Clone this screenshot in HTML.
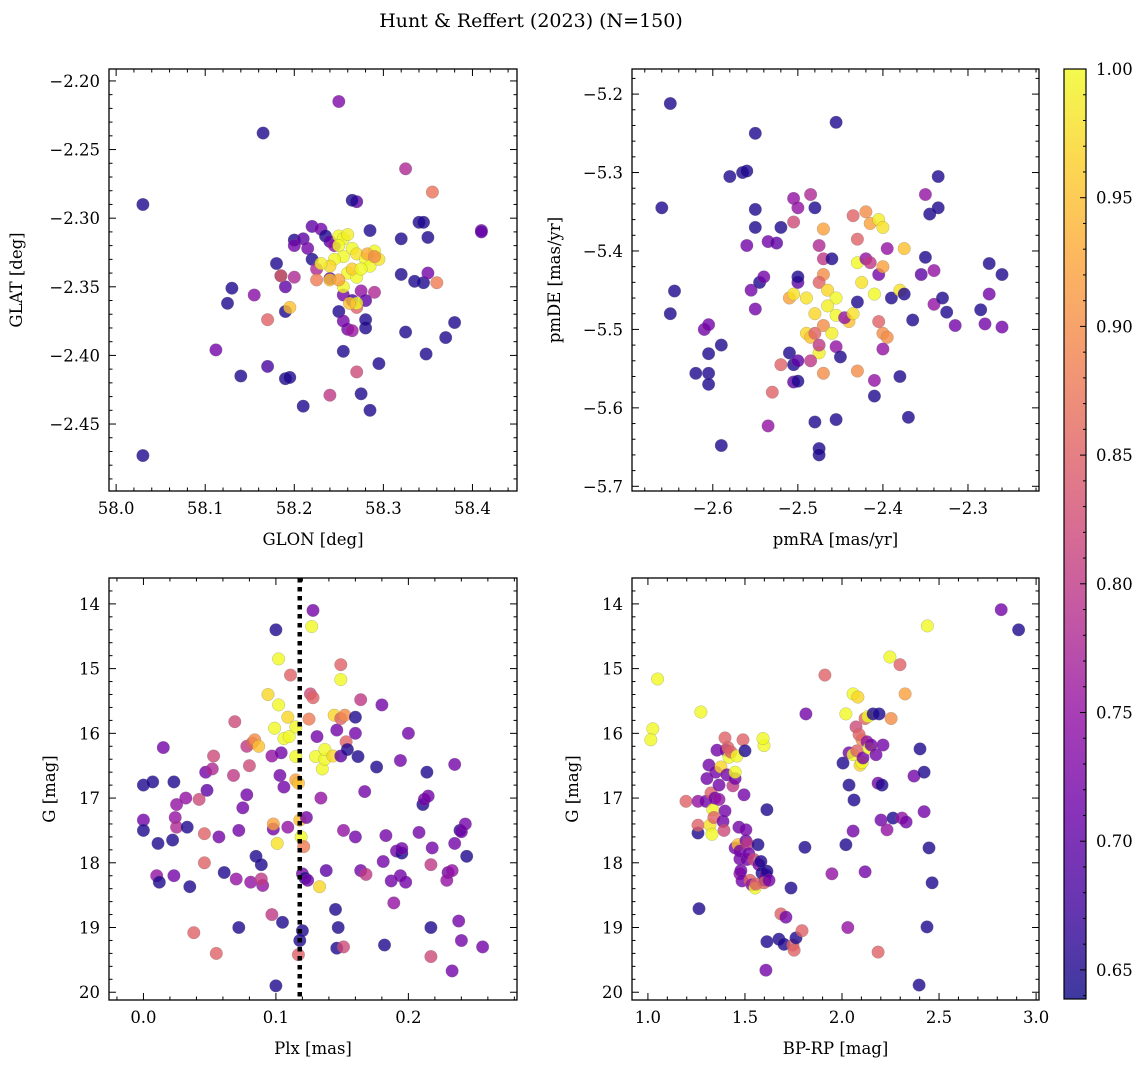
<!DOCTYPE html>
<html><head><meta charset="utf-8"><style>
body{margin:0;background:#fff;}
svg{display:block;font-family:"DejaVu Serif","Liberation Serif",serif;}
</style></head><body>
<svg id="fig" width="1148" height="1068" xmlns="http://www.w3.org/2000/svg">
<text x="531" y="27" font-size="19" text-anchor="middle">Hunt &amp; Reffert (2023) (N=150)</text>
</svg>
<script>
// ---------- Panel 1: GLON vs GLAT ----------
const glon = [58.03,58.03,58.165,58.25,58.325,58.355,58.41,58.41,58.34,58.285,58.27,58.265,58.22,58.2,58.2,58.18,58.185,58.19,58.13,58.155,58.125,58.17,58.19,58.112,58.14,58.17,58.19,58.195,58.21,58.24,58.27,58.275,58.285,58.295,58.28,58.28,58.255,58.26,58.265,58.325,58.348,58.37,58.38,58.345,58.35,58.36,58.335,58.32,58.32,58.35,58.345,58.29,58.21,58.215,58.23,58.235,58.24,58.245,58.22,58.225,58.24,58.255,58.265,58.27,58.275,58.28,58.25,58.255,58.2,58.195,58.185,58.25,58.255,58.26,58.25,58.265,58.255,58.27,58.28,58.285,58.29,58.295,58.245,58.24,58.26,58.27,58.265,58.275,58.255,58.27,58.262,58.23,58.24,58.282,58.29,58.25,58.225];
const glat = [-2.29,-2.473,-2.238,-2.215,-2.264,-2.281,-2.309,-2.31,-2.303,-2.309,-2.288,-2.287,-2.306,-2.316,-2.32,-2.333,-2.342,-2.35,-2.351,-2.356,-2.362,-2.374,-2.368,-2.396,-2.415,-2.408,-2.417,-2.416,-2.437,-2.429,-2.412,-2.428,-2.44,-2.406,-2.38,-2.374,-2.397,-2.381,-2.382,-2.383,-2.399,-2.387,-2.376,-2.347,-2.34,-2.347,-2.346,-2.341,-2.315,-2.314,-2.303,-2.354,-2.315,-2.322,-2.308,-2.313,-2.317,-2.32,-2.33,-2.337,-2.344,-2.356,-2.36,-2.365,-2.353,-2.36,-2.368,-2.375,-2.343,-2.365,-2.342,-2.313,-2.315,-2.312,-2.32,-2.322,-2.328,-2.326,-2.33,-2.335,-2.324,-2.33,-2.33,-2.335,-2.34,-2.343,-2.337,-2.337,-2.35,-2.362,-2.362,-2.333,-2.345,-2.326,-2.328,-2.345,-2.345];
const prob1 = [.65,.65,.65,.73,.78,.87,.72,.7,.65,.65,.7,.65,.7,.65,.72,.65,.65,.7,.65,.74,.65,.85,.65,.72,.65,.68,.65,.65,.65,.8,.82,.65,.65,.65,.65,.65,.65,.72,.76,.65,.65,.65,.65,.65,.72,.88,.65,.65,.65,.65,.65,.78,.7,.72,.72,.65,.7,.75,.65,.78,.7,.72,.68,.85,.75,.7,.65,.72,.78,.95,.85,1,1,.99,1,1,1,.98,1,1,1,.98,1,.97,1,1,.96,1,1,1,.95,.99,.95,.93,.9,.92,.88];

// ---------- Panel 2: pmRA vs pmDE ----------
const pmra = [-2.65,-2.66,-2.645,-2.65,-2.61,-2.605,-2.59,-2.605,-2.62,-2.605,-2.605,-2.59,-2.58,-2.565,-2.56,-2.55,-2.55,-2.55,-2.56,-2.555,-2.545,-2.54,-2.55,-2.535,-2.525,-2.52,-2.53,-2.535,-2.52,-2.51,-2.505,-2.5,-2.505,-2.5,-2.51,-2.505,-2.49,-2.49,-2.5,-2.5,-2.505,-2.5,-2.505,-2.48,-2.485,-2.475,-2.47,-2.455,-2.47,-2.475,-2.47,-2.465,-2.48,-2.475,-2.485,-2.48,-2.475,-2.485,-2.47,-2.46,-2.455,-2.465,-2.47,-2.455,-2.46,-2.455,-2.45,-2.44,-2.445,-2.435,-2.43,-2.435,-2.43,-2.43,-2.425,-2.42,-2.415,-2.42,-2.415,-2.405,-2.4,-2.405,-2.41,-2.405,-2.4,-2.395,-2.4,-2.41,-2.41,-2.4,-2.395,-2.39,-2.375,-2.38,-2.375,-2.38,-2.37,-2.365,-2.355,-2.35,-2.35,-2.345,-2.335,-2.335,-2.34,-2.34,-2.33,-2.325,-2.315,-2.285,-2.28,-2.275,-2.275,-2.26,-2.26,-2.48,-2.475,-2.475,-2.455,-2.43];
const pmde = [-5.212,-5.345,-5.451,-5.48,-5.5,-5.494,-5.52,-5.531,-5.556,-5.556,-5.57,-5.648,-5.305,-5.3,-5.298,-5.25,-5.347,-5.37,-5.393,-5.45,-5.44,-5.433,-5.474,-5.388,-5.39,-5.37,-5.58,-5.623,-5.545,-5.53,-5.545,-5.54,-5.567,-5.566,-5.46,-5.455,-5.46,-5.505,-5.44,-5.433,-5.333,-5.345,-5.363,-5.345,-5.328,-5.393,-5.372,-5.236,-5.43,-5.44,-5.41,-5.45,-5.48,-5.53,-5.51,-5.505,-5.52,-5.54,-5.556,-5.41,-5.46,-5.47,-5.495,-5.482,-5.505,-5.522,-5.535,-5.49,-5.485,-5.48,-5.465,-5.355,-5.385,-5.415,-5.44,-5.35,-5.365,-5.41,-5.415,-5.36,-5.37,-5.43,-5.455,-5.49,-5.505,-5.51,-5.525,-5.565,-5.585,-5.42,-5.397,-5.46,-5.397,-5.45,-5.455,-5.56,-5.612,-5.488,-5.43,-5.408,-5.328,-5.353,-5.305,-5.345,-5.425,-5.468,-5.46,-5.478,-5.495,-5.475,-5.493,-5.416,-5.455,-5.43,-5.497,-5.618,-5.652,-5.66,-5.615,-5.553];
const prob2 = [.65,.65,.65,.65,.72,.72,.65,.65,.65,.65,.65,.65,.65,.65,.65,.65,.65,.65,.72,.72,.65,.72,.72,.72,.7,.65,.85,.75,.85,.65,.65,.7,.7,.65,.92,.98,.98,.97,.7,.65,.75,.75,.82,.65,.78,.78,.92,.65,.9,.85,.8,.97,.97,.99,.95,.85,.8,.8,.9,.65,1,.99,.9,1,.99,.75,.65,.95,.75,.98,.65,.85,.85,1,.98,.9,.92,.75,.8,.99,.98,.72,1,.85,.9,.9,.75,.75,.65,.92,.75,.65,.95,.98,.65,.65,.65,.65,.7,.65,.75,.65,.65,.65,.75,.75,.65,.65,.72,.65,.72,.65,.72,.65,.72,.65,.65,.65,.65,.9];

// ---------- Panel 3: Plx vs G ----------
const plx = [0.0,0.007,0.0,0.0,0.011,0.015,0.01,0.012,0.022,0.023,0.025,0.024,0.025,0.023,0.032,0.033,0.035,0.038,0.042,0.046,0.046,0.048,0.047,0.053,0.052,0.055,0.057,0.061,0.068,0.069,0.07,0.072,0.072,0.075,0.078,0.078,0.08,0.081,0.082,0.084,0.085,0.087,0.09,0.089,0.089,0.094,0.097,0.097,0.098,0.098,0.099,0.1,0.102,0.102,0.101,0.106,0.104,0.103,0.106,0.1,0.105,0.109,0.11,0.109,0.111,0.115,0.115,0.115,0.117,0.118,0.119,0.121,0.12,0.118,0.117,0.12,0.122,0.123,0.124,0.125,0.127,0.128,0.126,0.128,0.13,0.131,0.133,0.134,0.135,0.137,0.137,0.138,0.143,0.144,0.146,0.145,0.146,0.147,0.149,0.149,0.149,0.149,0.151,0.151,0.152,0.153,0.154,0.16,0.16,0.162,0.16,0.164,0.164,0.168,0.167,0.176,0.18,0.181,0.182,0.183,0.187,0.189,0.191,0.194,0.194,0.195,0.195,0.198,0.2,0.208,0.211,0.212,0.214,0.215,0.217,0.217,0.217,0.218,0.23,0.229,0.233,0.233,0.235,0.235,0.238,0.239,0.24,0.24,0.243,0.244,0.256];
const gmag3 = [16.8,16.75,17.34,17.5,17.7,16.22,18.2,18.3,17.65,16.75,17.1,17.3,17.45,18.2,17.0,17.45,18.37,19.08,17.02,17.55,18.0,16.88,16.6,16.35,16.55,19.4,17.6,18.15,16.65,15.82,18.25,19.0,17.5,17.15,16.95,16.2,16.5,18.3,16.15,16.1,17.9,16.2,18.35,18.25,18.03,15.4,18.8,16.35,17.48,17.4,15.92,14.4,14.85,15.56,17.7,16.83,16.3,16.65,16.08,19.9,18.92,17.45,16.05,15.75,15.1,15.9,16.36,16.72,16.77,17.34,17.6,17.75,18.17,19.2,19.42,19.05,18.24,17.3,18.27,15.78,14.35,14.1,15.39,15.45,16.36,16.05,18.37,17.0,16.55,16.4,16.25,18.12,16.35,15.72,15.95,18.72,19.32,19.0,16.35,14.94,15.17,15.77,17.5,19.3,15.72,16.13,16.25,16.0,15.75,16.36,17.6,15.48,18.12,18.18,16.9,16.52,15.56,17.98,19.27,17.58,18.28,18.62,17.82,16.42,18.2,17.85,17.78,18.3,16.0,17.53,17.1,17.02,16.6,16.97,18.03,19.45,19.0,17.77,18.15,18.27,18.12,19.67,16.48,17.7,18.9,17.5,19.2,17.52,17.4,17.9,19.3];
const prob3 = [.65,.65,.72,.65,.65,.72,.75,.65,.65,.65,.75,.75,.78,.72,.75,.65,.65,.85,.82,.85,.85,.7,.72,.82,.78,.85,.72,.65,.8,.82,.75,.65,.72,.72,.72,.8,.82,.75,.85,.9,.65,.95,.75,.8,.65,.97,.8,.75,.72,.92,1,.65,1,1,.98,.72,.72,.72,1,.65,.65,.75,1,.97,.85,1,1,.92,.95,.95,1,.88,.72,.65,.85,.65,.65,.72,.72,.88,1,.72,.82,.85,1,.72,.97,.75,1,1,1,.7,.97,.97,.72,.65,.65,.65,.7,.85,1,.85,.75,.82,.9,.85,.65,.72,.65,.65,.72,.8,.72,.8,.72,.65,.72,.72,.65,.72,.72,.75,.72,.72,.72,.65,.72,.72,.72,.72,.65,.72,.65,.72,.8,.82,.65,.72,.72,.75,.75,.72,.72,.72,.72,.65,.72,.72,.72,.65];

// ---------- Panel 4: BP-RP vs G ----------
const bprp = [1.05,1.025,1.015,1.273,1.196,1.258,1.258,1.258,1.263,1.299,1.304,1.325,1.314,1.32,1.33,1.335,1.34,1.35,1.356,1.345,1.366,1.366,1.376,1.387,1.392,1.397,1.402,1.397,1.407,1.418,1.412,1.428,1.438,1.449,1.449,1.449,1.459,1.464,1.469,1.474,1.474,1.474,1.479,1.485,1.49,1.495,1.5,1.505,1.505,1.51,1.515,1.52,1.526,1.536,1.546,1.552,1.557,1.567,1.572,1.588,1.603,1.608,1.613,1.598,1.582,1.598,1.593,1.613,1.608,1.613,1.624,1.675,1.685,1.711,1.701,1.737,1.747,1.753,1.763,1.794,1.809,1.814,1.912,1.948,2.005,2.02,2.03,2.036,2.02,2.036,2.057,2.062,2.057,2.072,2.057,2.077,2.082,2.093,2.103,2.103,2.088,2.108,2.119,2.119,2.129,2.134,2.139,2.15,2.16,2.175,2.186,2.186,2.191,2.206,2.201,2.211,2.232,2.247,2.253,2.263,2.299,2.309,2.325,2.33,2.371,2.397,2.402,2.423,2.423,2.438,2.448,2.464,2.44,2.82,2.91];
const gmag4 = [15.16,15.93,16.1,15.67,17.05,17.05,17.54,17.42,18.71,17.05,16.7,16.92,16.49,17.42,17.56,17.18,17.3,16.6,16.26,17.0,17.02,16.8,16.52,17.36,17.5,17.2,16.26,16.07,16.64,16.37,16.22,16.29,16.81,16.7,17.77,16.6,16.35,17.72,17.45,17.94,17.82,18.17,18.12,18.28,16.1,16.95,16.27,17.66,17.49,17.95,17.71,17.86,18.27,18.34,17.95,18.39,18.33,17.72,18.03,18.16,18.27,18.19,18.13,18.31,17.98,16.19,16.08,17.18,19.66,19.22,18.27,19.18,18.79,18.84,19.26,18.39,19.27,19.35,19.16,19.05,17.76,15.7,15.1,18.17,16.46,15.7,19.0,16.3,17.72,16.8,17.51,17.03,15.39,15.9,16.33,16.27,15.44,16.49,16.45,16.1,16.02,16.38,15.77,18.14,16.13,15.74,16.23,16.18,15.7,16.33,19.38,16.77,15.7,16.8,17.34,16.18,17.49,14.82,15.77,17.31,14.94,17.31,15.39,17.37,16.66,19.89,16.24,17.21,16.6,18.99,17.77,18.31,14.34,14.09,14.4];
const prob4 = [1,1,1,1,.85,.75,.65,.85,.65,.72,.72,.85,.72,.98,1,1,.85,.72,.72,.72,.75,.72,.97,.72,.82,.72,.72,.85,.72,1,.85,.85,.8,.72,.72,1,1,.95,.72,.72,.72,.75,.72,.72,.85,.72,.65,.72,.72,.72,.8,.72,.85,.75,.82,1,.85,.65,.72,.65,.65,.72,.65,.85,.65,1,1,.65,.72,.65,.72,.65,.85,.72,.65,.65,.85,.85,.65,.85,.65,.72,.85,.75,.65,1,.75,.72,.65,.65,.72,.65,1,.82,1,.85,.97,.97,1,.9,.85,.72,.85,.72,.75,1,1,.72,.65,.72,.85,.72,.65,.65,.72,.72,.75,1,.9,.65,.85,.75,.92,.72,.72,.65,.65,.72,.65,.65,.65,.65,1,.72,.65];

const cbTicks = [0.65,0.70,0.75,0.80,0.85,0.90,0.95,1.00];
const PMIN = 0.6387, PMAX = 1.0;

const NS = 'http://www.w3.org/2000/svg';
const svg = document.getElementById('fig');
function mk(tag, attrs, parent){ const e=document.createElementNS(NS,tag); for(const k in attrs) e.setAttribute(k,attrs[k]); (parent||svg).appendChild(e); return e; }

const stops=[[13,8,135],[65,4,157],[106,0,168],[143,13,164],[177,42,144],[204,71,120],[225,100,98],[242,132,75],[252,166,54],[252,206,37],[240,249,33]];
function plasma(t){ if(!isFinite(t)) t=0.3; t=Math.max(0,Math.min(1,t)); const f=t*10, i=Math.min(9,Math.floor(f)), u=f-i; const a=stops[i], b=stops[i+1]; return 'rgb('+a.map((v,k)=>Math.round(v+(b[k]-v)*u)).join(',')+')'; }
function colorOf(p){ if(p===undefined) p=0.72; return plasma((p-PMIN)/(PMAX-PMIN)); }
function minus(s){ return s.replace('-','\u2212'); }

function panel(cfg){
  const g = mk('g',{});
  
  
  const sx = v => cfg.x0 + (v-cfg.xmin)/(cfg.xmax-cfg.xmin)*(cfg.x1-cfg.x0);
  const sy = v => cfg.yinv ? cfg.y0 + (v-cfg.ymin)/(cfg.ymax-cfg.ymin)*(cfg.y1-cfg.y0) : cfg.y1 - (v-cfg.ymin)/(cfg.ymax-cfg.ymin)*(cfg.y1-cfg.y0);
  const pg = mk('g',{},g);
  
  
  const n = Math.min(cfg.xs.length, cfg.ys.length);
  for(let i=0;i<n;i++){
    const c = mk('circle',{cx:sx(cfg.xs[i]).toFixed(1),cy:sy(cfg.ys[i]).toFixed(1),r:6.3,fill:colorOf(cfg.ps[i]),'fill-opacity':0.8,stroke:'#777','stroke-width':0.4,'stroke-opacity':0.6},pg);
    
    
  }
  if(cfg.vline!==undefined){
    const l = mk('line',{x1:sx(cfg.vline),x2:sx(cfg.vline),y1:cfg.y0,y2:cfg.y1,stroke:'#000','stroke-width':4.5,'stroke-dasharray':'4.5 4.5'},g);
    
    
  }
  const fr = mk('rect',{x:cfg.x0,y:cfg.y0,width:cfg.x1-cfg.x0,height:cfg.y1-cfg.y0,fill:'none',stroke:'#000','stroke-width':1.3},g);
  
  
  const tg = mk('g',{stroke:'#000','stroke-width':1},g);
  
  
  const eps=1e-9;
  for(let v=Math.ceil(cfg.xmin/cfg.xminor)*cfg.xminor; v<=cfg.xmax+eps; v+=cfg.xminor){
    const isMaj = cfg.xt.some(t=>Math.abs(t-v)<cfg.xminor/3); const L=isMaj?7:3.5; const x=sx(v);
    mk('line',{x1:x,x2:x,y1:cfg.y1,y2:cfg.y1-L},tg); mk('line',{x1:x,x2:x,y1:cfg.y0,y2:cfg.y0+L},tg);
  }
  for(let v=Math.ceil(cfg.ymin/cfg.yminor)*cfg.yminor; v<=cfg.ymax+eps; v+=cfg.yminor){
    const isMaj = cfg.yt.some(t=>Math.abs(t-v)<cfg.yminor/3); const L=isMaj?7:3.5; const y=sy(v);
    mk('line',{x1:cfg.x0,x2:cfg.x0+L,y1:y,y2:y},tg); mk('line',{x1:cfg.x1,x2:cfg.x1-L,y1:y,y2:y},tg);
  }
  cfg.xt.forEach(t=>{ const e=mk('text',{x:sx(t),y:cfg.y1+23,'font-size':16.5,'text-anchor':'middle'},g); e.textContent=minus(t.toFixed(cfg.xd));
      });
  cfg.yt.forEach(t=>{ const e=mk('text',{x:cfg.x0-9,y:sy(t)+6,'font-size':16.5,'text-anchor':'end'},g); e.textContent=minus(t.toFixed(cfg.yd));
      });
  const xl = mk('text',{x:(cfg.x0+cfg.x1)/2,y:cfg.y1+54,'font-size':16.5,'text-anchor':'middle'},g); xl.textContent=cfg.xlabel;
   
  const yx=cfg.ylx, yy=(cfg.y0+cfg.y1)/2;
  const yl = mk('text',{x:yx,y:yy,'font-size':16.5,'text-anchor':'middle',transform:`rotate(-90 ${yx} ${yy})`},g); yl.textContent=cfg.ylabel;
   
}

panel({name:'sky-position-panel',x0:109,x1:517,y0:69,y1:491,xmin:57.992,xmax:58.45,ymin:-2.4988,ymax:-2.1913,xt:[58.0,58.1,58.2,58.3,58.4],xd:1,xminor:0.02,yt:[-2.20,-2.25,-2.30,-2.35,-2.40,-2.45],yd:2,yminor:0.01,xlabel:'GLON [deg]',ylabel:'GLAT [deg]',ylx:22,xs:glon,ys:glat,ps:prob1});
panel({name:'proper-motion-panel',x0:632,x1:1039,y0:69,y1:491,xmin:-2.695,xmax:-2.2165,ymin:-5.706,ymax:-5.168,xt:[-2.6,-2.5,-2.4,-2.3],xd:1,xminor:0.02,yt:[-5.2,-5.3,-5.4,-5.5,-5.6,-5.7],yd:1,yminor:0.02,xlabel:'pmRA [mas/yr]',ylabel:'pmDE [mas/yr]',ylx:560,xs:pmra,ys:pmde,ps:prob2});
panel({name:'parallax-panel',x0:109,x1:517,y0:578,y1:1000,xmin:-0.026,xmax:0.282,ymin:13.6,ymax:20.12,yinv:true,xt:[0.0,0.1,0.2],xd:1,xminor:0.02,yt:[14,15,16,17,18,19,20],yd:0,yminor:0.2,xlabel:'Plx [mas]',ylabel:'G [mag]',ylx:55,xs:plx,ys:gmag3,ps:prob3,vline:0.118});
panel({name:'cmd-panel',x0:632,x1:1039,y0:578,y1:1000,xmin:0.918,xmax:3.015,ymin:13.6,ymax:20.12,yinv:true,xt:[1.0,1.5,2.0,2.5,3.0],xd:1,xminor:0.1,yt:[14,15,16,17,18,19,20],yd:0,yminor:0.2,xlabel:'BP-RP [mag]',ylabel:'G [mag]',ylx:578,xs:bprp,ys:gmag4,ps:prob4});

// colorbar
const cb = mk('g',{});


const defs = mk('defs',{},cb);
const lg = mk('linearGradient',{id:'cbg',x1:0,y1:1,x2:0,y2:0},defs);
for(let i=0;i<=20;i++){ mk('stop',{offset:i/20,'stop-color':plasma(i/20),'stop-opacity':0.8},lg); }
const CB={x0:1064,x1:1086,y0:69,y1:999};
mk('rect',{x:CB.x0,y:CB.y0,width:CB.x1-CB.x0,height:CB.y1-CB.y0,fill:'url(#cbg)',stroke:'#000','stroke-width':1.2},cb);
const cy = v => CB.y1 - (v-PMIN)/(PMAX-PMIN)*(CB.y1-CB.y0);
for(let v=0.64; v<=1.0001; v+=0.01){
  const maj = cbTicks.some(t=>Math.abs(t-v)<0.003); const y=cy(v);
  mk('line',{x1:CB.x1,x2:CB.x1-(maj?6:3),y1:y,y2:y,stroke:'#000','stroke-width':1},cb);
}
cbTicks.forEach(t=>{ const e=mk('text',{x:CB.x1+10,y:cy(t)+6,'font-size':16.5},cb); e.textContent=t.toFixed(2);
    });
</script>
</body></html>
